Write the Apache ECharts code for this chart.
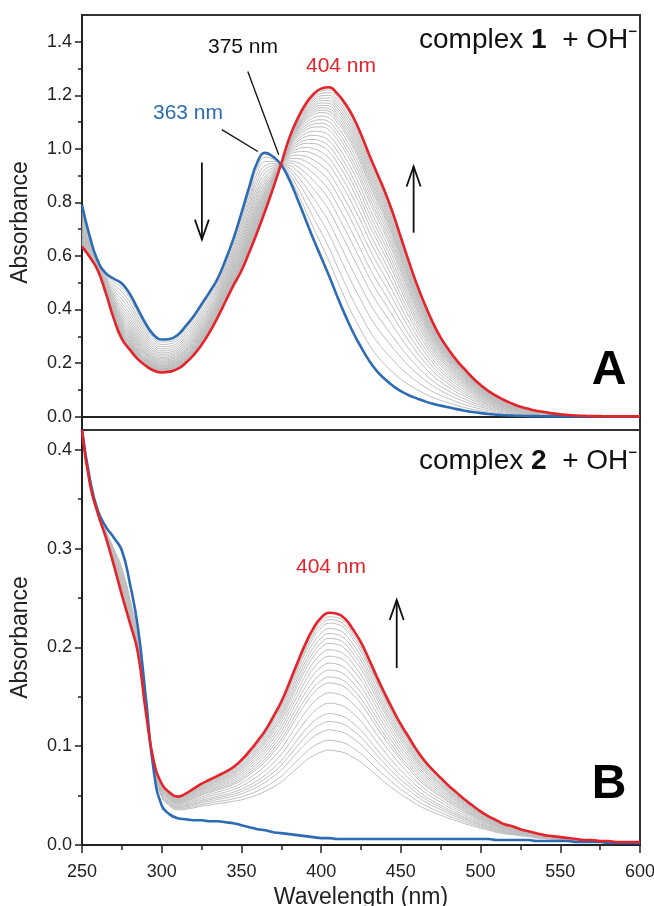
<!DOCTYPE html>
<html><head><meta charset="utf-8">
<script src="https://cdn.jsdelivr.net/npm/echarts@6/dist/echarts.min.js"></script>
<style>html,body{margin:0;padding:0;background:#fff}#c{width:654px;height:906px}</style>
</head><body><div id="c"></div>
<script>
// ---------------- DATA ----------------
const wavelengths = [250,255,260,265,270,275,280,285,290,295,300,305,310,315,320,325,330,335,340,345,350,355,360,365,370,375,380,385,390,395,400,405,410,415,420,425,430,435,440,445,450,455,460,465,470,475,480,485,490,495,500,505,510,515,520,525,530,535,540,545,550,555,560,565,570,575,580,585,590,595,600];

// Panel A (complex 1 + OH-)
const topBlue = [0.79,0.67,0.58,0.535,0.515,0.497,0.458,0.402,0.347,0.305,0.288,0.29,0.305,0.338,0.375,0.42,0.465,0.515,0.585,0.665,0.76,0.86,0.95,0.985,0.97,0.94,0.885,0.815,0.74,0.665,0.595,0.525,0.45,0.38,0.315,0.26,0.21,0.17,0.14,0.115,0.095,0.08,0.068,0.057,0.048,0.041,0.035,0.028,0.022,0.017,0.013,0.01,0.007,0.005,0.004,0.003,0.002,0.002,0.001,0.001,0.001,0.001,0.001,0.001,0.001,0.001,0.001,0.001,0.001,0.001,0.001];
const topRed = [0.635,0.595,0.545,0.46,0.365,0.29,0.25,0.215,0.19,0.172,0.165,0.168,0.178,0.2,0.23,0.268,0.315,0.37,0.43,0.49,0.545,0.615,0.69,0.77,0.855,0.945,1.04,1.11,1.165,1.203,1.225,1.23,1.207,1.17,1.12,1.055,0.98,0.91,0.84,0.76,0.67,0.58,0.495,0.42,0.352,0.295,0.25,0.21,0.177,0.145,0.118,0.095,0.077,0.061,0.048,0.037,0.029,0.022,0.017,0.012,0.009,0.006,0.004,0.003,0.002,0.002,0.001,0.001,0.001,0.001,0.001];
// absorbance at ~405 nm of each intermediate (grey) spectrum, panel A
const topGrayAt405 = [0.58,0.63,0.68,0.725,0.77,0.81,0.845,0.88,0.91,0.94,0.965,0.99,1.01,1.03,1.05,1.07,1.085,1.10,1.115,1.13,1.14,1.15,1.16,1.17,1.18,1.19,1.20,1.21,1.22];

// Panel B (complex 2 + OH-)
const botBlue = [0.42,0.37,0.338,0.322,0.311,0.298,0.265,0.221,0.15,0.075,0.04,0.031,0.027,0.026,0.025,0.025,0.024,0.024,0.023,0.022,0.02,0.018,0.016,0.015,0.013,0.012,0.011,0.01,0.009,0.008,0.007,0.007,0.006,0.006,0.006,0.006,0.006,0.006,0.006,0.006,0.006,0.006,0.006,0.006,0.006,0.006,0.006,0.006,0.006,0.006,0.006,0.006,0.005,0.005,0.005,0.005,0.005,0.004,0.004,0.004,0.004,0.004,0.003,0.003,0.003,0.003,0.002,0.002,0.002,0.002,0.002];
const botRed = [0.42,0.365,0.335,0.311,0.283,0.253,0.225,0.195,0.135,0.085,0.062,0.053,0.049,0.052,0.057,0.062,0.066,0.07,0.074,0.079,0.086,0.095,0.105,0.116,0.13,0.145,0.164,0.184,0.203,0.219,0.23,0.235,0.234,0.229,0.218,0.205,0.188,0.17,0.153,0.137,0.122,0.109,0.096,0.085,0.076,0.068,0.06,0.053,0.046,0.04,0.034,0.029,0.025,0.021,0.019,0.016,0.014,0.012,0.01,0.009,0.008,0.007,0.006,0.005,0.005,0.004,0.004,0.003,0.003,0.003,0.003];
const botGrayAt405 = [0.096,0.106,0.1165,0.125,0.133,0.1435,0.154,0.164,0.170,0.177,0.184,0.191,0.1975,0.204,0.209,0.214,0.219,0.2245,0.228,0.231];

// Tick labels
const xTicks = [250,300,350,400,450,500,550,600];
const topYMajor = [0,0.2,0.4,0.6,0.8,1.0,1.2,1.4];
const topYMinor = [0.1,0.3,0.5,0.7,0.9,1.1,1.3];
const botYMajor = [0,0.1,0.2,0.3,0.4];
const botYMinor = [0.05,0.15,0.25,0.35];

// ---------------- CHART ----------------
const FONT = '"Liberation Sans", Arial, sans-serif';
const AX = '#222';
const BLUE = '#2e6bb5';
const RED = '#e5232b';
const GRAY = '#bdbdbd';
const SMOOTH = 0.5;

function pairs(ys){ return wavelengths.map((w,i)=>[w, ys[i]]); }
function grays(blue, red, list){
  const k = wavelengths.indexOf(405);
  return list.map(g => {
    const f = (g - blue[k]) / (red[k] - blue[k]);
    return wavelengths.map((w,i)=>[w, blue[i] + f*(red[i]-blue[i])]);
  });
}

const chart = echarts.init(document.getElementById('c'), null, {renderer:'canvas'});

function yMain(grid, min, max, major, name){
  return {gridIndex:grid, type:'value', min:min, max:max, position:'left',
    axisLine:{show:true, lineStyle:{color:AX, width:2}},
    axisTick:{show:true, customValues:major, length:7, lineStyle:{color:AX, width:1.5}},
    axisLabel:{show:true, customValues:major, formatter:v=>v.toFixed(1), fontSize:18, color:AX, fontFamily:FONT, margin:10},
    splitLine:{show:false},
    name:name, nameLocation:'middle', nameGap:50,
    nameTextStyle:{fontSize:23, color:AX, fontFamily:FONT}};
}
function yMinor(grid, min, max, minor){
  return {gridIndex:grid, type:'value', min:min, max:max, position:'left',
    axisLine:{show:false}, axisLabel:{show:false}, splitLine:{show:false},
    axisTick:{show:true, customValues:minor, length:4, lineStyle:{color:AX, width:1.5}}};
}

const series = [];
grays(topBlue, topRed, topGrayAt405).forEach(d => series.push({type:'line', xAxisIndex:0, yAxisIndex:0, data:d, showSymbol:false, smooth:SMOOTH, lineStyle:{color:GRAY, width:1}, silent:true, z:1}));
series.push({type:'line', xAxisIndex:0, yAxisIndex:0, data:pairs(topBlue), showSymbol:false, smooth:SMOOTH, lineStyle:{color:BLUE, width:2.6}, z:3});
series.push({type:'line', xAxisIndex:0, yAxisIndex:0, data:pairs(topRed), showSymbol:false, smooth:SMOOTH, lineStyle:{color:RED, width:2.6}, z:4});
grays(botBlue, botRed, botGrayAt405).forEach(d => series.push({type:'line', xAxisIndex:1, yAxisIndex:2, data:d, showSymbol:false, smooth:SMOOTH, lineStyle:{color:GRAY, width:1}, silent:true, z:1}));
series.push({type:'line', xAxisIndex:1, yAxisIndex:2, data:pairs(botBlue), showSymbol:false, smooth:SMOOTH, lineStyle:{color:BLUE, width:2.6}, z:3});
series.push({type:'line', xAxisIndex:1, yAxisIndex:2, data:pairs(botRed), showSymbol:false, smooth:SMOOTH, lineStyle:{color:RED, width:2.6}, z:4});

chart.setOption({
  animation:false,
  backgroundColor:'#fff',
  textStyle:{fontFamily:FONT},
  grid:[
    {left:82, right:14, top:15, height:415, outerBoundsMode:'none', containLabel:false, show:true, borderColor:'#333', borderWidth:2, backgroundColor:'transparent'},
    {left:82, right:14, top:430, height:415, outerBoundsMode:'none', containLabel:false, show:true, borderColor:'#333', borderWidth:2, backgroundColor:'transparent'}
  ],
  xAxis:[
    {gridIndex:0, type:'value', min:250, max:600, interval:50,
      axisLine:{show:true, lineStyle:{color:AX, width:2}}, axisTick:{show:false}, axisLabel:{show:false}, splitLine:{show:false}},
    {gridIndex:1, type:'value', min:250, max:600, interval:50,
      axisLine:{show:true, lineStyle:{color:AX, width:2}},
      axisTick:{show:true, customValues:xTicks, length:8, lineStyle:{color:AX, width:1.5}},
      minorTick:{show:true, splitNumber:2, length:5, lineStyle:{color:AX, width:1.5}},
      axisLabel:{show:true, customValues:xTicks, fontSize:18, color:AX, fontFamily:FONT, margin:18},
      splitLine:{show:false},
      name:'Wavelength (nm)', nameLocation:'middle', nameGap:41,
      nameTextStyle:{fontSize:23, color:AX, fontFamily:FONT}}
  ],
  yAxis:[
    yMain(0, -0.05, 1.5, topYMajor, 'Absorbance'),
    yMinor(0, -0.05, 1.5, topYMinor),
    yMain(1, 0, 0.42, botYMajor, 'Absorbance'),
    yMinor(1, 0, 0.42, botYMinor)
  ],
  series:series
});

// ---------------- ANNOTATIONS (placed through the axes' scales) ----------------
function px(grid, pt){ return chart.convertToPixel({xAxisIndex:grid, yAxisIndex: grid===0?0:2}, pt); }
const g = [];
function line(a, b, w){ g.push({type:'polyline', z:50, shape:{points:[a,b]}, style:{stroke:'#111', lineWidth:w, fill:null}}); }
function arrow(grid, tail, tip){
  const a = px(grid, tail), b = px(grid, tip);
  line(a, b, 1.8);
  const dx=b[0]-a[0], dy=b[1]-a[1], L=Math.hypot(dx,dy), ux=dx/L, uy=dy/L;
  const back=20, half=7;
  const l=[b[0]-ux*back - uy*half, b[1]-uy*back + ux*half];
  const r=[b[0]-ux*back + uy*half, b[1]-uy*back - ux*half];
  g.push({type:'polyline', z:50, shape:{points:[l,b,r]}, style:{stroke:'#111', lineWidth:1.8, fill:null}});
}
function text(x, y, t, size, color, extra){
  g.push({type:'text', z:60, x:x, y:y, style:Object.assign({text:t, fill:color, fontSize:size, fontFamily:FONT, textAlign:'center', textVerticalAlign:'middle'}, extra||{})});
}
// leader lines
line(px(0,[354,1.289]), px(0,[373.4,0.978]), 1.3);
line(px(0,[337.7,1.072]), px(0,[360.3,0.99]), 1.3);
// arrows
arrow(0, [325.2,0.949], [325.2,0.661]);
arrow(0, [458,0.687], [458,0.934]);
arrow(1, [447.4,0.179], [447.4,0.248]);
// labels
text(243, 47, '375 nm', 21, '#111');
text(188, 113, '363 nm', 21, BLUE);
text(341, 66, '404 nm', 21, RED);
text(331, 567, '404 nm', 21, RED);
const rich = {a:{fontSize:28, fontFamily:FONT, fill:'#111'}, b:{fontSize:28, fontFamily:FONT, fontWeight:'bold', fill:'#111'}};
g.push({type:'text', z:60, x:419, y:40, style:{text:'{a|complex }{b|1}{a|  + OH\u207B}', fill:'#111', textAlign:'left', textVerticalAlign:'middle', rich:rich}});
g.push({type:'text', z:60, x:419, y:461, style:{text:'{a|complex }{b|2}{a|  + OH\u207B}', fill:'#111', textAlign:'left', textVerticalAlign:'middle', rich:rich}});
text(609, 371, 'A', 48, '#000', {fontWeight:'bold'});
text(609, 785, 'B', 48, '#000', {fontWeight:'bold'});

chart.setOption({graphic:g});
</script>
</body></html>
